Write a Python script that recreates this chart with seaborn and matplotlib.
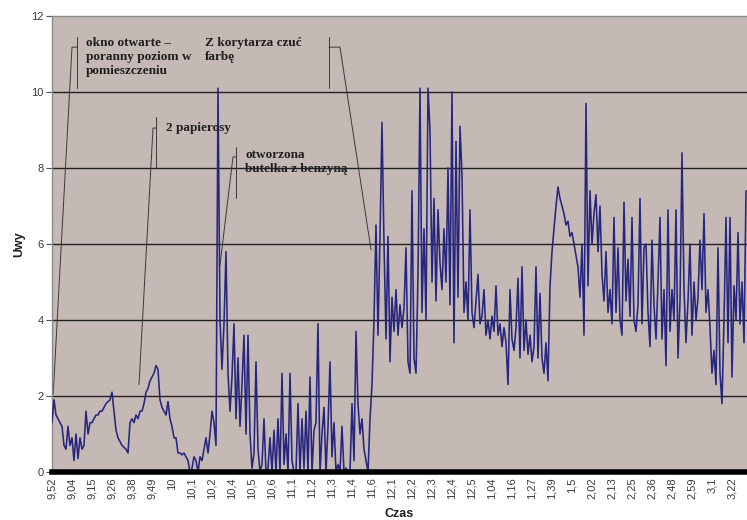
import numpy as np
import pandas as pd
import matplotlib
matplotlib.use("Agg")
import matplotlib.pyplot as plt
import seaborn as sns

# --- DATA (one value every 2 px of the plot) ---
czas_labels = ["9,52", "9,04", "9,15", "9,26", "9,38", "9,49", "10", "10,1", "10,2",
               "10,4", "10,5", "10,6", "11,1", "11,2", "11,3", "11,4", "11,6",
               "12,1", "12,2", "12,3", "12,4", "12,5", "1,04", "1,16", "1,27",
               "1,39", "1,5", "2,02", "2,13", "2,25", "2,36", "2,48", "2,59",
               "3,1", "3,22"]
SAMPLES_PER_LABEL = 10

uwy_rano = [1.3, 1.9, 1.5, 1.4, 1.3, 1.2, 0.7, 0.6, 1.2, 0.7,
            0.9, 0.3, 1.0, 0.35, 0.9, 0.6, 0.7, 1.6, 1.0, 1.3,
            1.3, 1.4, 1.5, 1.5, 1.6, 1.6, 1.7, 1.8, 1.85, 1.9,
            2.1, 1.6, 1.1, 0.9, 0.8, 0.7, 0.65, 0.6, 0.5, 1.3,
            1.4, 1.3, 1.5, 1.4, 1.6, 1.6, 1.8, 2.1, 2.2, 2.4]
uwy_papierosy = [2.5, 2.6, 2.8, 2.7, 1.9, 1.7, 1.6, 1.5, 1.85, 1.4,
                 1.2, 0.9, 0.9, 0.5, 0.5, 0.45, 0.5, 0.4, 0.3, 0.0,
                 0.1, 0.4, 0.3, 0.0, 0.4, 0.3, 0.6, 0.9, 0.5, 1.0,
                 1.6, 1.3, 0.7, 10.1, 4.0, 2.7, 3.9, 5.8, 2.6, 1.6,
                 2.5, 3.9, 1.4, 3.0, 1.2, 2.3, 3.6, 1.0, 3.6, 1.0]
uwy_benzyna = [0.1, 0.5, 2.9, 0.6, 0.0, 0.2, 1.4, 0.0, 0.1, 0.9,
               0.0, 1.1, 0.0, 1.4, 0.0, 2.6, 0.2, 1.0, 0.0, 2.6,
               0.3, 0.0, 0.0, 1.8, 0.0, 1.4, 0.1, 1.6, 0.0, 2.5,
               0.0, 1.1, 1.3, 3.9, 0.0, 1.0, 1.7, 0.0, 1.2, 2.9,
               0.4, 1.3, 0.0, 0.2, 0.0, 1.2, 0.0, 0.1, 0.0, 0.0]
uwy_farba = [1.8, 0.3, 3.7, 1.8, 1.0, 1.4, 0.6, 0.3, 0.0, 1.4,
             2.3, 4.0, 6.5, 3.6, 6.2, 9.2, 6.0, 3.5, 6.2, 2.9,
             4.6, 3.7, 4.8, 3.6, 4.4, 3.8, 4.3, 5.9, 2.9, 2.6,
             7.4, 3.0, 2.6, 5.2, 10.1, 4.2, 6.4, 4.0, 10.1, 9.0,
             5.0, 7.2, 4.5, 6.9, 5.5, 4.8, 6.4, 5.0, 8.0, 4.4]
uwy_poludnie = [10.0, 3.4, 8.7, 4.6, 9.1, 7.8, 4.2, 5.0, 4.0, 6.9,
                4.2, 3.8, 4.5, 5.2, 3.9, 4.1, 4.8, 3.6, 4.0, 3.5,
                4.1, 3.7, 4.9, 3.6, 3.9, 3.3, 3.8, 3.4, 2.3, 4.8,
                3.5, 3.2, 3.8, 5.1, 3.0, 5.4, 3.2, 4.0, 3.1, 3.6,
                2.9, 3.3, 5.4, 3.0, 4.7, 3.0, 2.6, 3.4, 2.4, 4.9]
uwy_popoludnie = [5.8, 6.4, 7.0, 7.5, 7.2, 7.0, 6.8, 6.5, 6.6, 6.2,
                  6.3, 6.0, 5.7, 5.4, 4.6, 6.0, 3.6, 9.7, 4.9, 7.4,
                  6.0, 6.8, 7.3, 5.8, 7.0, 5.2, 4.5, 5.8, 4.2, 4.8,
                  3.9, 6.7, 4.2, 5.9, 4.0, 3.6, 7.1, 4.5, 5.6, 4.1,
                  6.7, 4.0, 3.7, 4.4, 7.2, 3.9, 5.9, 6.0, 4.2, 3.3]
uwy_koniec = [6.1, 4.4, 3.5, 5.0, 6.7, 3.5, 4.8, 2.8, 6.9, 3.7,
              4.8, 4.0, 6.9, 3.0, 4.5, 8.4, 4.8, 3.4, 4.5, 6.0,
              3.6, 5.0, 4.0, 4.6, 6.1, 4.8, 6.8, 4.2, 4.8, 3.8,
              2.6, 3.2, 2.3, 5.9, 2.6, 1.8, 4.0, 6.7, 3.4, 6.7,
              2.5, 4.9, 4.0, 6.3, 3.9, 5.0, 3.4, 7.4]

uwy = uwy_rano + uwy_papierosy + uwy_benzyna + uwy_farba + uwy_poludnie + uwy_popoludnie + uwy_koniec
df = pd.DataFrame({"probka": np.arange(len(uwy)), "Uwy": uwy})

# --- STYLE ---
BG_PLOT = "#c5b9b6"
LINE_COL = "#26267f"
TEXT_COL = "#1e1e1e"

sns.set_style("white")
plt.rcParams["font.family"] = ["Liberation Sans", "DejaVu Sans"]

fig = plt.figure(figsize=(7.47, 5.20), dpi=100)
ax = fig.add_axes([52 / 747, 48 / 520, 695 / 747, 456 / 520])
ax.set_facecolor(BG_PLOT)

sns.lineplot(data=df, x="probka", y="Uwy", ax=ax, color=LINE_COL, linewidth=1.15,
             estimator=None, zorder=3)

ax.set_ylim(0, 12)
ax.set_xlim(0, 347.5)
ax.set_yticks(np.arange(0, 13, 2))
ax.set_yticklabels([str(v) for v in range(0, 13, 2)], fontsize=8, color="#3a3a3a")
ax.set_xticks(np.arange(len(czas_labels)) * SAMPLES_PER_LABEL)
ax.set_xticklabels(czas_labels, rotation=90, fontsize=8, color="#3a3a3a")
ax.tick_params(axis="y", length=4, width=0.8, color="#555555", pad=2, left=True)
ax.tick_params(axis="x", length=0, pad=4)

for g in range(2, 12, 2):
    ax.axhline(g, color="#202020", linewidth=1.0, zorder=1)

for side in ["top", "left"]:
    ax.spines[side].set_color("#8a8a8a")
    ax.spines[side].set_linewidth(1.0)
ax.spines["right"].set_visible(False)
ax.spines["bottom"].set_color("black")
ax.spines["bottom"].set_linewidth(4)
ax.spines["bottom"].set_zorder(4)

ax.set_xlabel("Czas", fontsize=9, fontweight="bold", color=TEXT_COL, labelpad=6)
ax.set_ylabel("Uwy", fontsize=9, fontweight="bold", color=TEXT_COL, labelpad=4)

# --- ANNOTATIONS (bracket + leader line, positions in data units) ---
serif = ["Liberation Serif", "DejaVu Serif"]
ann_kw = dict(fontsize=9.5, fontweight="bold", color=TEXT_COL, family=serif, linespacing=1.25)
lead_kw = dict(color="#3a3a3a", linewidth=0.7, zorder=2)

# okno otwarte
ax.text(17, 11.45, "okno otwarte \u2013\nporanny poziom w\npomieszczeniu", va="top", ha="left", **ann_kw)
ax.plot([12.5, 12.5], [11.45, 10.1], **lead_kw)
ax.plot([12.5, 10, 0.6], [11.18, 11.18, 2.05], **lead_kw)

# Z korytarza czuć farbę
ax.text(76.5, 11.45, "Z korytarza czu\u0107\nfarb\u0119", va="top", ha="left", **ann_kw)
ax.plot([138.5, 138.5], [11.45, 10.1], **lead_kw)
ax.plot([138.5, 144, 159.5], [11.18, 11.18, 5.85], **lead_kw)

# 2 papierosy
ax.text(57, 9.05, "2 papierosy", va="center", ha="left", **ann_kw)
ax.plot([52, 52], [9.35, 8.0], **lead_kw)
ax.plot([52, 50.5, 43.5], [9.05, 9.05, 2.3], **lead_kw)

# otworzona butelka z benzyną
ax.text(96.5, 8.5, "otworzona\nbutelka z benzyn\u0105", va="top", ha="left", **ann_kw)
ax.plot([92, 92], [8.55, 7.2], **lead_kw)
ax.plot([92, 90.5, 84], [8.29, 8.29, 5.45], **lead_kw)

fig.savefig("out.png", dpi=100, facecolor="white")
